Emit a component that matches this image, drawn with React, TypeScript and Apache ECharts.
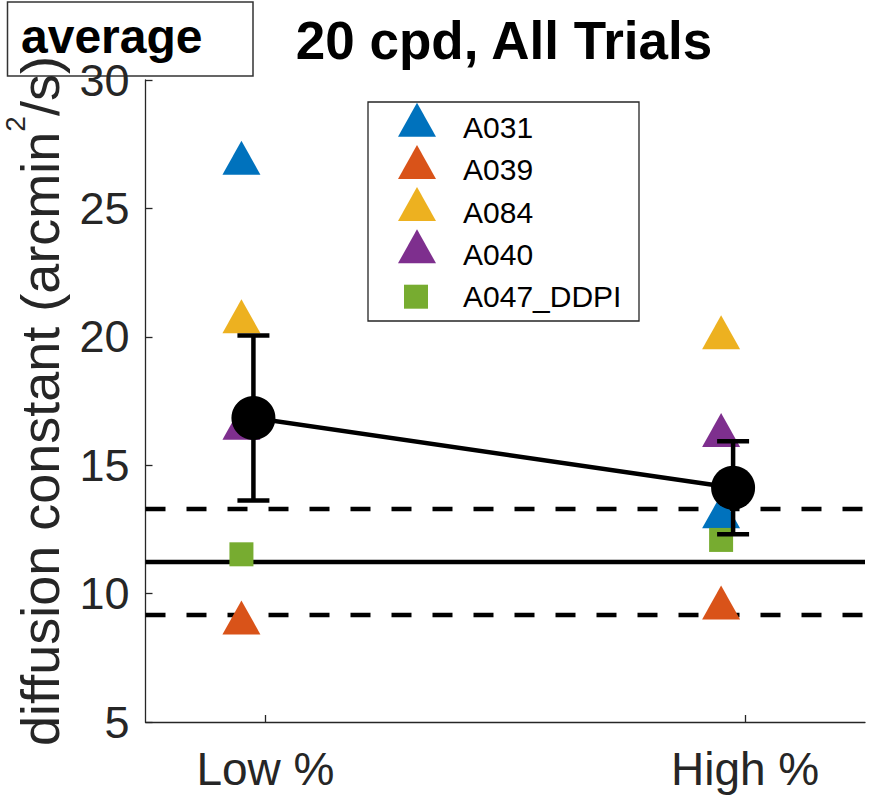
import React, { useEffect, useRef } from "react";
import * as echarts from "echarts";

// ---- data ----
const conditions = ["Low %", "High %"];
const conditionX = [1, 2];
const subjects = ["A031", "A039", "A084", "A040", "A047_DDPI"];
const A031 = [26.75, 12.98];
const A039 = [8.85, 9.43];
const A084 = [20.58, 19.96];
const A040 = [16.43, 16.15];
const A047_DDPI = [11.53, 12.09];
const meanValues = [16.84, 14.12];
const meanErrors = [3.21, 1.81];
const refMean = 11.23;
const refSpread = 2.06;
const yTickValues = [5, 10, 15, 20, 25, 30];

const subjectValues = [A031, A039, A084, A040, A047_DDPI];
const subjectColors = ["#0072BD", "#D95319", "#EDB120", "#7E2F8E", "#77AC30"];
const subjectSymbols = ["triangle", "triangle", "triangle", "triangle", "rect"];

const FONT = "'Liberation Sans', Arial, Helvetica, sans-serif";
const AX = "#262626";
const SUBJ_OFFSET = -0.05;
const MEAN_OFFSET = -0.025;
const X_MIN = 0.75;
const X_MAX = 2.25;
// triangle legend icon raised above the text centre (MATLAB draws '^' around its centroid)
const LEGEND_TRI = "path://M0,50 M19,0 L38,34 L0,34 Z";

export default function App() {
  const ref = useRef<HTMLDivElement>(null);
  useEffect(() => {
    if (!ref.current) return;
    const chart = echarts.init(ref.current, null, { renderer: "svg" });

    const subjectSeries = subjects.map((name, i) => {
      const isTri = subjectSymbols[i] === "triangle";
      return {
        name,
        type: "scatter",
        z: 3,
        symbol: subjectSymbols[i],
        symbolSize: isTri ? [38, 34] : 24,
        symbolOffset: isTri ? [0, -5.7] : [0, 0],
        itemStyle: { color: subjectColors[i], opacity: 1 },
        emphasis: { disabled: true },
        data: conditionX.map((x, j) => [x + SUBJ_OFFSET, subjectValues[i][j]]),
      };
    });

    const refLine = (v: number, dashed: boolean) => ({
      type: "line",
      z: 2,
      symbol: "none",
      silent: true,
      lineStyle: { color: "#000", width: 4.5, type: dashed ? [20, 21] : "solid" },
      data: [
        [X_MIN, v],
        [X_MAX, v],
      ],
    });

    const option: any = {
      animation: false,
      backgroundColor: "#fff",
      title: {
        text: "20 cpd, All Trials",
        left: 504,
        top: 14,
        padding: 0,
        textAlign: "center",
        textStyle: { fontFamily: FONT, fontSize: 53, fontWeight: "bold", color: "#000" },
      },
      grid: { left: 145.5, right: 7, top: 80, bottom: 74, containLabel: false, outerBoundsMode: "none" },
      xAxis: {
        type: "value",
        min: X_MIN,
        max: X_MAX,
        axisLine: { show: true, lineStyle: { color: AX, width: 1.3 } },
        axisTick: { show: true, inside: true, length: 7, customValues: conditionX, lineStyle: { color: AX, width: 1.3 } },
        axisLabel: {
          customValues: conditionX,
          formatter: (v: number) => conditions[conditionX.indexOf(v)] ?? "",
          fontFamily: FONT,
          fontSize: 46,
          color: AX,
          margin: 24,
        },
        splitLine: { show: false },
      },
      yAxis: {
        type: "value",
        min: yTickValues[0],
        max: yTickValues[yTickValues.length - 1],
        interval: 5,
        axisLine: { show: true, lineStyle: { color: AX, width: 1.3 } },
        axisTick: { show: true, inside: true, length: 7, lineStyle: { color: AX, width: 1.3 } },
        axisLabel: { fontFamily: FONT, fontSize: 45, color: AX, margin: 16 },
        splitLine: { show: false },
        name: "{b|diffusion constant (arcmin}{s|2}{b|/s)}",
        nameLocation: "middle",
        nameGap: 68,
        nameRotate: 90,
        nameTextStyle: {
          rich: {
            b: { fontFamily: FONT, fontSize: 54, color: AX, lineHeight: 76, verticalAlign: "middle" },
            s: { fontFamily: FONT, fontSize: 28, color: AX, lineHeight: 24, verticalAlign: "top" },
          },
        },
      },
      legend: [
        {
          data: subjects.slice(0, 4),
          orient: "vertical",
          left: 398,
          top: 102.7,
          padding: 0,
          icon: LEGEND_TRI,
          itemWidth: 38,
          itemHeight: 50,
          itemGap: -7.8,
          selectedMode: false,
          textStyle: { fontFamily: FONT, fontSize: 30, color: "#000", padding: [0, 0, 0, 22] },
        },
        {
          data: subjects.slice(4),
          orient: "vertical",
          left: 404,
          top: 281.7,
          padding: 0,
          icon: "rect",
          itemWidth: 24,
          itemHeight: 24,
          selectedMode: false,
          textStyle: { fontFamily: FONT, fontSize: 30, color: "#000", padding: [0, 0, 0, 30] },
        },
      ],
      graphic: [
        {
          type: "rect",
          silent: true,
          z: -1,
          shape: { x: 368, y: 102, width: 271, height: 219 },
          style: { fill: "#fff", stroke: AX, lineWidth: 1.3 },
        },
        {
          type: "rect",
          silent: true,
          shape: { x: 7.5, y: 2, width: 245.5, height: 74 },
          style: { fill: "none", stroke: "#333", lineWidth: 1.5 },
        },
        {
          type: "text",
          silent: true,
          x: 21,
          y: 36.7,
          style: {
            text: "average",
            fontFamily: FONT,
            fontSize: 48,
            fontWeight: "bold",
            fill: "#000",
            verticalAlign: "middle",
            align: "left",
          },
        },
      ],
      series: [
        refLine(refMean, false),
        refLine(refMean + refSpread, true),
        refLine(refMean - refSpread, true),
        ...subjectSeries,
        {
          type: "custom",
          z: 4,
          silent: true,
          encode: { x: 0, y: [1, 2] },
          data: conditionX.map((x, j) => [x + MEAN_OFFSET, meanValues[j] - meanErrors[j], meanValues[j] + meanErrors[j]]),
          renderItem: (params: any, api: any) => {
            const x = api.value(0);
            const lo = api.coord([x, api.value(1)]);
            const hi = api.coord([x, api.value(2)]);
            const hw = 16;
            const st = { stroke: "#000", lineWidth: 4.5 };
            return {
              type: "group",
              children: [
                { type: "line", shape: { x1: lo[0], y1: lo[1], x2: hi[0], y2: hi[1] }, style: st },
                { type: "line", shape: { x1: lo[0] - hw, y1: lo[1], x2: lo[0] + hw, y2: lo[1] }, style: st },
                { type: "line", shape: { x1: hi[0] - hw, y1: hi[1], x2: hi[0] + hw, y2: hi[1] }, style: st },
              ],
            };
          },
        },
        {
          type: "line",
          z: 5,
          symbol: "circle",
          symbolSize: 44,
          silent: true,
          itemStyle: { color: "#000" },
          lineStyle: { color: "#000", width: 4.5 },
          data: conditionX.map((x, j) => [x + MEAN_OFFSET, meanValues[j]]),
        },
      ],
    };
    chart.setOption(option);
    return () => chart.dispose();
  }, []);
  return <div ref={ref} style={{ width: 872, height: 796, position: "absolute", left: 0, top: 0 }} />;
}
